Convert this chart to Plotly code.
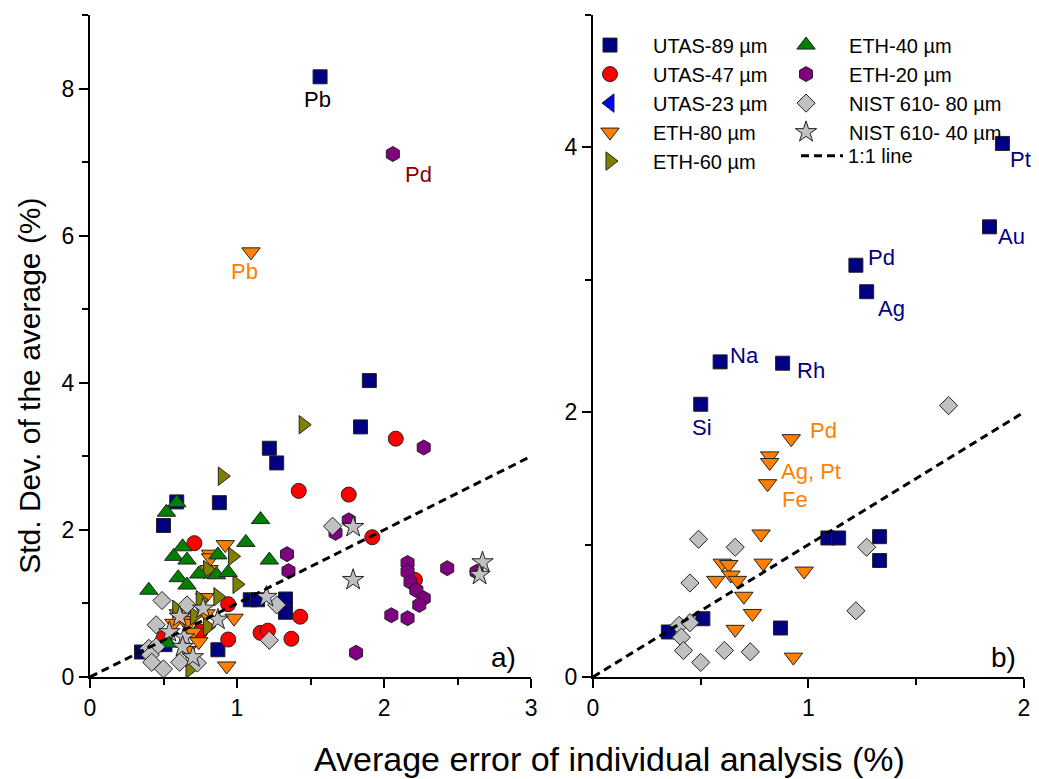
import plotly.graph_objects as go

# ---------------- data ----------------
utas89_x = [1.565, 1.90, 1.84, 1.22, 1.27, 0.59, 0.88, 0.50, 1.09, 1.14, 1.33, 1.33, 0.87, 0.35, 0.51]
utas89_y = [8.16, 4.03, 3.40, 3.11, 2.91, 2.38, 2.37, 2.06, 1.05, 1.05, 1.06, 0.88, 0.37, 0.34, 0.44]

utas47_x = [2.08, 1.42, 1.76, 1.92, 2.21, 1.43, 0.71, 0.94, 0.94, 1.16, 1.21, 1.37, 0.50, 0.75]
utas47_y = [3.24, 2.53, 2.48, 1.90, 1.32, 0.82, 1.82, 0.99, 0.51, 0.60, 0.63, 0.52, 0.53, 0.62]

# no visible UTAS-23 µm points in the chart (legend entry only)
utas23_x = [None]
utas23_y = [None]

eth80_x = [1.095, 0.92, 0.82, 0.82, 0.81, 0.78, 0.60, 0.63, 0.79, 0.57, 0.64, 0.67, 0.98, 0.70, 0.74, 0.66, 0.93]
eth80_y = [5.78, 1.80, 1.67, 1.62, 1.46, 1.08, 0.86, 0.85, 0.86, 0.73, 0.77, 0.73, 0.80, 0.61, 0.48, 0.36, 0.15]

eth60_x = [1.45, 0.90, 0.97, 0.80, 1.00, 0.87, 0.75, 0.59, 0.71, 0.80, 0.68]
eth60_y = [3.43, 2.73, 1.64, 1.46, 1.26, 1.09, 1.05, 0.92, 0.83, 0.68, 0.11]

eth40_x = [0.59, 0.52, 1.16, 1.06, 1.22, 0.63, 0.57, 0.66, 0.87, 0.74, 0.86, 0.94, 0.60, 0.66, 0.40, 0.53]
eth40_y = [2.37, 2.24, 2.14, 1.83, 1.59, 1.77, 1.64, 1.59, 1.66, 1.40, 1.39, 1.42, 1.35, 1.25, 1.18, 0.46]

eth20_x = [2.06, 2.27, 1.34, 1.35, 1.76, 1.67, 2.16, 2.16, 2.18, 2.22, 2.27, 2.24, 2.05, 2.16, 2.43, 2.63, 1.81]
eth20_y = [7.11, 3.12, 1.67, 1.44, 2.13, 1.96, 1.55, 1.43, 1.29, 1.18, 1.07, 0.98, 0.84, 0.80, 1.48, 1.43, 0.33]

nist80_x = [0.49, 0.66, 0.45, 0.40, 0.45, 0.41, 0.42, 0.50, 0.61, 0.73, 1.27, 1.22, 1.65]
nist80_y = [1.04, 0.98, 0.71, 0.39, 0.41, 0.30, 0.20, 0.11, 0.20, 0.19, 0.98, 0.50, 2.05]

nist40_x = [1.79, 1.79, 2.67, 2.65, 1.20, 0.77, 0.87, 0.61, 0.54, 0.64, 0.63, 0.70]
nist40_y = [2.04, 1.32, 1.56, 1.39, 1.09, 0.93, 0.78, 0.82, 0.61, 0.54, 0.41, 0.27]

line_x = [0, 3]
line_y = [0, 3]

FONT = "Liberation Sans, Arial, sans-serif"

# name, x, y, symbol, color, size, legend, in right panel
series = [
    ("UTAS-89 µm", utas89_x, utas89_y, "square", "#000080", 14, "legend", True),
    ("UTAS-47 µm", utas47_x, utas47_y, "circle", "#FF0000", 15, "legend", False),
    ("UTAS-23 µm", utas23_x, utas23_y, "triangle-left", "#0000FF", 16, "legend", False),
    ("ETH-80 µm", eth80_x, eth80_y, "triangle-down", "#FF8000", 16, "legend", True),
    ("ETH-60 µm", eth60_x, eth60_y, "triangle-right", "#808000", 16, "legend", False),
    ("ETH-40 µm", eth40_x, eth40_y, "triangle-up", "#008000", 16, "legend2", False),
    ("ETH-20 µm", eth20_x, eth20_y, "hexagon", "#800080", 15, "legend2", False),
    ("NIST 610- 80 µm", nist80_x, nist80_y, "diamond", "#C0C0C0", 14, "legend2", True),
    ("NIST 610- 40 µm", nist40_x, nist40_y, "star", "#C0C0C0", 16, "legend2", False),
]

DASH = "8px,5px"
fig = go.Figure()

for name, xs, ys, sym, col, sz, leg, right in series:
    fig.add_trace(go.Scatter(
        x=xs, y=ys, mode="markers", name=name, legend=leg,
        marker=dict(symbol=sym, color=col, size=sz, line=dict(color="#222222", width=1)),
        xaxis="x", yaxis="y", cliponaxis=False))
fig.add_trace(go.Scatter(
    x=line_x, y=line_y, mode="lines", name="1:1 line", legend="legend3",
    line=dict(color="black", width=3, dash=DASH), xaxis="x", yaxis="y"))

for name, xs, ys, sym, col, sz, leg, right in series:
    if right:
        fig.add_trace(go.Scatter(
            x=xs, y=ys, mode="markers", name=name, showlegend=False,
            marker=dict(symbol=sym, color=col, size=sz, line=dict(color="#222222", width=1)),
            xaxis="x2", yaxis="y2"))
fig.add_trace(go.Scatter(
    x=line_x, y=line_y, mode="lines", showlegend=False,
    line=dict(color="black", width=3, dash=DASH), xaxis="x2", yaxis="y2"))

# ---------------- point labels ----------------
def label(text, x, y, color, xref, yref, xanchor, xshift, yshift, size=22):
    fig.add_annotation(x=x, y=y, xref=xref, yref=yref, text=text, showarrow=False,
                       xanchor=xanchor, yanchor="middle", xshift=xshift, yshift=yshift,
                       font=dict(family=FONT, size=size, color=color))

label("Pb", utas89_x[0], utas89_y[0], "#000000", "x", "y", "center", -3, -23)
label("Pd", eth20_x[0], eth20_y[0], "#8B0000", "x", "y", "left", 10, -20)
label("Pb", eth80_x[0], eth80_y[0], "#FF8000", "x", "y", "center", -6, -20)

navy = "#000080"
label("Pt", utas89_x[1], utas89_y[1], navy, "x2", "y2", "left", 6, -16)
label("Au", utas89_x[2], utas89_y[2], navy, "x2", "y2", "left", 6, -10)
label("Pd", utas89_x[3], utas89_y[3], navy, "x2", "y2", "left", 10, 8)
label("Ag", utas89_x[4], utas89_y[4], navy, "x2", "y2", "left", 9, -17)
label("Na", utas89_x[5], utas89_y[5], navy, "x2", "y2", "left", 8, 6)
label("Rh", utas89_x[6], utas89_y[6], navy, "x2", "y2", "left", 12, -7)
label("Si", utas89_x[7], utas89_y[7], navy, "x2", "y2", "center", 1, -23)
label("Pd", eth80_x[1], eth80_y[1], "#FF8000", "x2", "y2", "left", 17, 8)
label("Ag, Pt", eth80_x[3], eth80_y[3], "#FF8000", "x2", "y2", "left", 9, -9)
label("Fe", eth80_x[4], eth80_y[4], "#FF8000", "x2", "y2", "left", 12, -16)

fig.add_annotation(x=1, y=0, xref="x domain", yref="y domain", text="a)", showarrow=False,
                   xanchor="right", yanchor="bottom", xshift=-13, yshift=2,
                   font=dict(family=FONT, size=28, color="black"))
fig.add_annotation(x=1, y=0, xref="x2 domain", yref="y2 domain", text="b)", showarrow=False,
                   xanchor="right", yanchor="bottom", xshift=-6, yshift=2,
                   font=dict(family=FONT, size=28, color="black"))

# axis titles
fig.add_annotation(x=0.5557, y=0, xref="paper", yref="paper", text="Average error of individual analysis (%)",
                   showarrow=False, xanchor="center", yanchor="middle", yshift=-82,
                   font=dict(family=FONT, size=34, color="black"))
fig.add_annotation(x=-0.0642, y=0.44, xref="paper", yref="paper", text="Std. Dev. of the average (%)",
                   showarrow=False, xanchor="center", yanchor="middle", textangle=-90,
                   font=dict(family=FONT, size=30, color="black"))

axis_common = dict(showline=True, linecolor="black", linewidth=2, ticks="outside", ticklen=9,
                   tickwidth=2, tickcolor="black", showgrid=False, zeroline=False, mirror=False,
                   automargin=False, tickfont=dict(family=FONT, size=23, color="black"))
minor_common = dict(ticks="outside", ticklen=6, tickwidth=1.5, tickcolor="black")

legend_font = dict(family=FONT, size=20, color="black")
W, H = 1031, 779
fig.update_layout(
    width=W, height=H,
    margin=dict(l=82, r=15, t=7, b=110, autoexpand=False),
    plot_bgcolor="white", paper_bgcolor="white",
    xaxis=dict(domain=[0, 0.4722], range=[0, 3], dtick=1, anchor="y",
               minor=dict(dtick=0.5, **minor_common), **axis_common),
    yaxis=dict(domain=[0, 1], range=[0, 9], dtick=2, anchor="x",
               minor=dict(dtick=1, **minor_common), **axis_common),
    xaxis2=dict(domain=[0.5385, 1], range=[0, 2], dtick=1, anchor="y2",
                minor=dict(dtick=0.5, **minor_common), **axis_common),
    yaxis2=dict(domain=[0, 1], range=[0, 5], dtick=2, anchor="x2",
                minor=dict(dtick=1, **minor_common), **axis_common),
    legend=dict(x=0.5107, y=0.984, xanchor="left", yanchor="top", bgcolor="rgba(0,0,0,0)",
                font=legend_font, itemwidth=76, traceorder="normal"),
    legend2=dict(x=0.7206, y=0.984, xanchor="left", yanchor="top", bgcolor="rgba(0,0,0,0)",
                 font=legend_font, itemwidth=76, traceorder="normal"),
    legend3=dict(x=0.7559, y=0.817, xanchor="left", yanchor="top", bgcolor="rgba(0,0,0,0)",
                 font=legend_font, itemwidth=42, traceorder="normal"),
    showlegend=True,
)

fig.write_html("out.html", default_width=f"{W}px", default_height=f"{H}px")
